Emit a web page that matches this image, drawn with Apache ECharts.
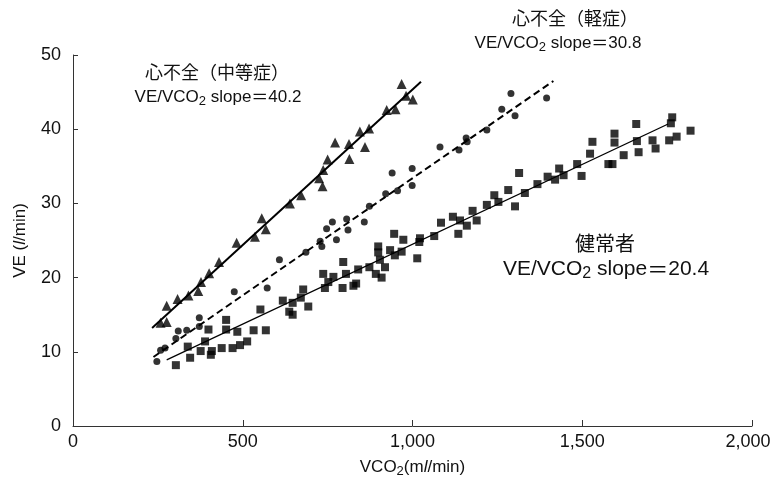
<!DOCTYPE html>
<html>
<head>
<meta charset="utf-8">
<script src="https://cdn.jsdelivr.net/npm/echarts@6/dist/echarts.min.js"></script>
<style>html,body{margin:0;padding:0;background:#fff}#c{width:770px;height:489px}</style>
</head>
<body>
<div id="c"></div>
<script>
// Moderate heart failure (triangles): [VCO2 ml/min, VE l/min]
const moderateHF = [
  [258,13.9],[276,14.0],[276,16.2],[308,17.1],[340,17.6],[369,18.2],[377,19.4],[401,20.6],
  [430,22.1],[482,24.7],[536,25.5],[556,28.0],[568,26.5],[639,30.0],[672,31.1],[725,33.4],
  [735,32.3],[737,34.5],[750,35.9],[814,36.0],[772,38.2],[813,38.0],[860,37.6],[845,39.7],
  [872,40.1],[924,42.6],[950,42.7],[968,46.1],[981,44.5],[1001,44.0]
];
// Mild heart failure (circles)
const mildHF = [
  [247,8.7],[258,10.2],[271,10.5],[303,11.8],[310,12.8],[335,12.9],[372,14.6],[372,13.4],
  [475,18.1],[572,18.6],[608,22.4],[686,23.4],[728,24.9],[733,24.2],[747,26.6],[764,27.5],
  [776,25.1],[806,27.9],[810,26.4],[858,27.5],[873,29.6],[921,31.3],[956,31.7],[940,34.1],
  [999,34.7],[999,32.4],[1081,37.6],[1137,37.2],[1158,38.8],[1161,38.3],[1219,39.9],
  [1263,42.7],[1290,44.8],[1302,41.8],[1395,44.2]
];
// Healthy (squares)
const healthy = [
  [303,8.2],[345,9.2],[376,10.1],[406,9.6],[409,10.1],[438,10.5],[470,10.5],[492,10.9],
  [513,11.4],[338,10.7],[389,11.4],[399,13.0],[451,14.3],[451,13.0],[484,12.7],[532,12.9],
  [568,12.9],[552,15.7],[618,16.9],[637,15.4],[647,15.0],[647,16.6],[671,17.3],[678,18.4],
  [693,16.1],[737,20.5],[742,18.6],[752,19.4],[767,20.1],[796,22.1],[804,20.5],[794,18.6],
  [826,18.9],[834,19.2],[840,21.1],[873,21.4],[892,20.5],[909,20.0],[899,24.2],[899,23.4],
  [904,22.4],[919,21.4],[934,23.7],[948,23.0],[968,23.5],[946,25.9],[973,25.1],[1014,22.6],
  [1020,24.8],[1022,25.3],[1064,25.6],[1084,27.4],[1119,28.2],[1135,25.9],[1140,27.7],
  [1160,27.0],[1177,29.0],[1189,27.7],[1219,29.8],[1241,31.1],[1253,30.2],[1282,31.8],
  [1302,29.6],[1314,34.1],[1331,31.4],[1368,32.6],[1398,33.6],[1420,33.2],[1432,34.7],
  [1445,33.8],[1485,35.3],[1498,33.7],[1523,36.7],[1530,38.3],[1577,35.3],[1589,35.3],
  [1595,39.4],[1595,38.2],[1622,36.5],[1659,40.7],[1661,38.4],[1666,36.9],[1707,38.5],
  [1716,37.4],[1756,38.5],[1778,39.0],[1765,41.6],[1761,40.8],[1819,39.8]
];
// Regression line end points
const moderateFit = [[233,13.2],[1025,46.4]];
const mildFit = [[237,9.3],[1415,46.5]];
const healthyFit = [[276,8.9],[1753,40.7]];

const xTicks = [0,500,1000,1500,2000];
const yTicks = [0,10,20,30,40,50];

const latin = '"Liberation Sans", "Noto Sans CJK JP", sans-serif';
const cjk = '"Noto Sans CJK JP", "Liberation Sans", sans-serif';

function slopeText(val, size) {
  return {
    text: '{a|VE/VCO}{s|2}{a| slope}{e|＝}{a|' + val + '}',
    rich: {
      a: {fontSize: size, fontFamily: latin, color: '#111'},
      s: {fontSize: Math.round(size * 0.75), fontFamily: latin, color: '#111', padding: [Math.round(size*0.45),0,0,0]},
      e: {fontSize: size, fontFamily: cjk, color: '#111'}
    }
  };
}

const chart = echarts.init(document.getElementById('c'), null, {renderer: 'canvas'});
const ann = [
  {x: 217, y: 72, t: {text: '心不全（中等症）', size: 18}},
  {x: 575, y: 18, t: {text: '心不全（軽症）', size: 18}},
  {x: 605, y: 243, t: {text: '健常者', size: 20}}
];
const graphics = ann.map(a => ({
  type: 'text', x: a.x, y: a.y,
  style: {text: a.t.text, font: a.t.size + 'px ' + cjk, fill: '#111', align: 'center', verticalAlign: 'middle'}
}));
[[218, 97, '40.2', 17], [558, 43, '30.8', 17], [606, 269, '20.4', 21]].forEach(d => {
  const st = slopeText(d[2], d[3]);
  graphics.push({type: 'text', x: d[0], y: d[1],
    style: {text: st.text, rich: st.rich, align: 'center', verticalAlign: 'middle', fill: '#111'}});
});

const xMax = xTicks[xTicks.length-1];
chart.setOption({
  animation: false,
  backgroundColor: '#fff',
  grid: {left: 73, right: 18, top: 55, bottom: 63, containLabel: false, outerBoundsMode: 'none'},
  xAxis: {
    type: 'value', min: xTicks[0], max: xMax, interval: 500,
    name: '{a|VCO}{s|2}{a|(m}{i|l}{a|/min)}',
    nameLocation: 'middle', nameGap: 31,
    nameTextStyle: {
      rich: {
        a: {fontSize: 17, fontFamily: latin, color: '#111'},
        s: {fontSize: 13, fontFamily: latin, color: '#111', padding: [8,0,0,0]},
        i: {fontSize: 17, fontFamily: latin, fontStyle: 'italic', color: '#111'}
      }
    },
    axisLine: {lineStyle: {color: '#333', width: 1}},
    axisTick: {inside: true, length: 6, lineStyle: {color: '#333'}},
    axisLabel: {fontSize: 18, fontFamily: latin, color: '#111', margin: 7,
      formatter: v => v === xMax ? '{l|' + v.toLocaleString('en-US') + '}' : v.toLocaleString('en-US'),
      rich: {l: {fontSize: 18, fontFamily: latin, color: '#111', padding: [0,8,0,0]}}},
    splitLine: {show: false}
  },
  yAxis: {
    type: 'value', min: yTicks[0], max: yTicks[yTicks.length-1], interval: 10,
    name: '{a|VE (}{i|l}{a|/min)}',
    nameLocation: 'middle', nameGap: 44,
    nameTextStyle: {
      rich: {
        a: {fontSize: 17, fontFamily: latin, color: '#111'},
        i: {fontSize: 17, fontFamily: latin, fontStyle: 'italic', color: '#111'}
      }
    },
    axisLine: {show: true, lineStyle: {color: '#333', width: 1}},
    axisTick: {show: true, inside: true, length: 5, lineStyle: {color: '#333'}},
    axisLabel: {fontSize: 18, fontFamily: latin, color: '#111', margin: 12},
    splitLine: {show: false}
  },
  graphic: graphics,
  series: [
    {type: 'scatter', data: moderateHF, symbol: 'triangle', symbolSize: 10, itemStyle: {color: '#000'}},
    {type: 'scatter', data: mildHF, symbol: 'circle', symbolSize: 7, itemStyle: {color: '#000'}},
    {type: 'scatter', data: healthy, symbol: 'rect', symbolSize: 8, itemStyle: {color: '#000'}},
    {type: 'line', data: moderateFit, symbol: 'none', lineStyle: {color: '#000', width: 2}, z: 3},
    {type: 'line', data: mildFit, symbol: 'none', lineStyle: {color: '#000', width: 2, type: [7,4]}, z: 3},
    {type: 'line', data: healthyFit, symbol: 'none', lineStyle: {color: '#000', width: 1.3}, z: 3}
  ]
});
</script>
</body>
</html>
